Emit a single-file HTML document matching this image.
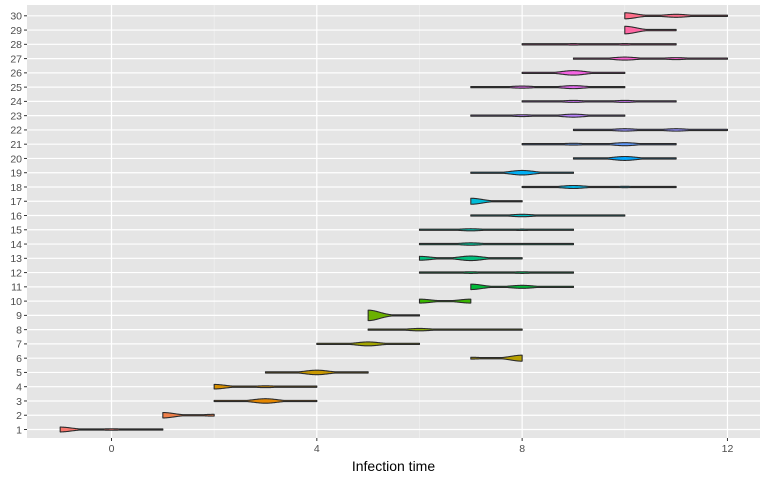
<!DOCTYPE html>
<html><head><meta charset="utf-8"><style>
body{margin:0;background:#fff;}
svg{display:block;font-family:"Liberation Sans",sans-serif;}
</style></head><body>
<svg id="chart" width="768" height="480"></svg>
<script>
// Data: per category, min infection time, and relative violin half-widths (px) at each integer from min
const categories = [1,2,3,4,5,6,7,8,9,10,11,12,13,14,15,16,17,18,19,20,21,22,23,24,25,26,27,28,29,30];
const mins = [-1,1,2,2,3,7,4,5,5,6,7,6,6,6,6,7,7,8,7,9,8,9,7,8,7,8,9,8,10,10];
const widths = [
  [3.2,1.0,0.6],
  [3.6,1.2],
  [0.8,3.0,0.6],
  [3.0,1.2,0.6],
  [0.6,3.0,0.6],
  [1.2,4.0],
  [0.8,2.6,0.7],
  [0.6,1.6,0.8,0.5],
  [7.0,0.6],
  [2.6,2.6],
  [3.6,2.0,0.6],
  [0.6,1.1,1.1,0.6],
  [2.6,3.0,0.6],
  [0.6,1.6,0.8,0.6],
  [0.6,1.4,0.9,0.6],
  [0.6,1.6,0.8,0.5],
  [4.0,0.8],
  [0.6,2.0,0.9,0.5],
  [0.8,3.0,0.7],
  [0.8,2.6,0.7],
  [0.6,1.2,2.0,0.6],
  [0.6,1.6,1.6,0.6],
  [0.6,1.2,2.0,0.6],
  [0.6,1.3,1.3,0.6],
  [0.7,1.4,2.0,0.6],
  [0.8,3.0,0.7],
  [0.7,2.0,1.3,0.6],
  [0.6,1.0,1.0,0.6],
  [5.0,0.8],
  [4.0,2.0,0.6]
];
const xTicks = [0,4,8,12];
const xMinor = [2,6,10];

const L=27,R=760,T=5,B=438;
const NS="http://www.w3.org/2000/svg";
const svg=document.getElementById('chart');
function mk(tag,attrs,parent){const e=document.createElementNS(NS,tag);for(const k in attrs)e.setAttribute(k,attrs[k]);(parent||svg).appendChild(e);return e;}
const X = v => 111.5 + v*51.33;
const rowH = (429.5-15.8)/29;
const Y = c => 429.5 - (c-1)*rowH;
const wScale = 0.75;

function hcl2hex(h,c,l){
  const hr=h*Math.PI/180;const u=c*Math.cos(hr),v=c*Math.sin(hr);
  const Xn=0.95047,Yn=1,Zn=1.08883;
  const un=4*Xn/(Xn+15*Yn+3*Zn),vn=9*Yn/(Xn+15*Yn+3*Zn);
  const Yv=l>8?Math.pow((l+16)/116,3):l/903.3;
  const up=u/(13*l)+un,vp=v/(13*l)+vn;
  const Xv=Yv*9*up/(4*vp),Zv=Yv*(12-3*up-20*vp)/(4*vp);
  let r=3.2406*Xv-1.5372*Yv-0.4986*Zv,g=-0.9689*Xv+1.8758*Yv+0.0415*Zv,b=0.0557*Xv-0.2040*Yv+1.0570*Zv;
  const f=t=>{t=t<=0.0031308?12.92*t:1.055*Math.pow(t,1/2.4)-0.055;t=Math.round(Math.max(0,Math.min(1,t))*255);return t.toString(16).padStart(2,'0');};
  return '#'+f(r)+f(g)+f(b);
}
const n=categories.length;
const colors=categories.map((c,i)=>hcl2hex(15+360*i/n,100,65));

const panel=mk('rect',{x:L,y:T,width:R-L,height:B-T,fill:'#e5e5e5'});


xMinor.forEach(v=>{const ln=mk('line',{x1:X(v),x2:X(v),y1:T,y2:B,stroke:'#f2f2f2','stroke-width':0.6});

});
xTicks.forEach(v=>{const ln=mk('line',{x1:X(v),x2:X(v),y1:T,y2:B,stroke:'#fff','stroke-width':1.2});

});
categories.forEach(c=>{const ln=mk('line',{x1:L,x2:R,y1:Y(c),y2:Y(c),stroke:'#fff','stroke-width':1.2});

});

const bw=0.22;
categories.forEach((c,i)=>{
  const w=widths[i],lo=mins[i],hi=lo+w.length-1;
  const pts=[];const N=120;
  for(let k=0;k<=N;k++){const xv=lo+(hi-lo)*k/N;let d=0;w.forEach((h,j)=>{d+=h*wScale*Math.exp(-Math.pow(xv-(lo+j),2)/(2*bw*bw));});pts.push([xv,Math.max(d,0.6)]);}
  const top=pts.map(p=>X(p[0]).toFixed(2)+','+(Y(c)-p[1]).toFixed(2));
  const bot=pts.slice().reverse().map(p=>X(p[0]).toFixed(2)+','+(Y(c)+p[1]).toFixed(2));
  const pg=mk('polygon',{points:top.concat(bot).join(' '),fill:colors[i],stroke:'#2b2b2b','stroke-width':1.1,'stroke-linejoin':'round'});
  
  
  const t=mk('text',{x:L-5,y:Y(c)+3.8,'text-anchor':'end','font-size':10.5,fill:'#4d4d4d'});
  t.textContent=c;
  
  
  const tk=mk('line',{x1:L-3,x2:L,y1:Y(c),y2:Y(c),stroke:'#333','stroke-width':1});
  
  
});
xTicks.forEach(v=>{
  const tk=mk('line',{x1:X(v),x2:X(v),y1:B,y2:B+3,stroke:'#333','stroke-width':1});
  
  
  const t=mk('text',{x:X(v),y:B+14,'text-anchor':'middle','font-size':10.5,fill:'#4d4d4d'});
  t.textContent=v;
  
  
});
const title=mk('text',{x:(L+R)/2,y:471,'text-anchor':'middle','font-size':14,fill:'#000'});
title.textContent='Infection time';


</script>
</body></html>
